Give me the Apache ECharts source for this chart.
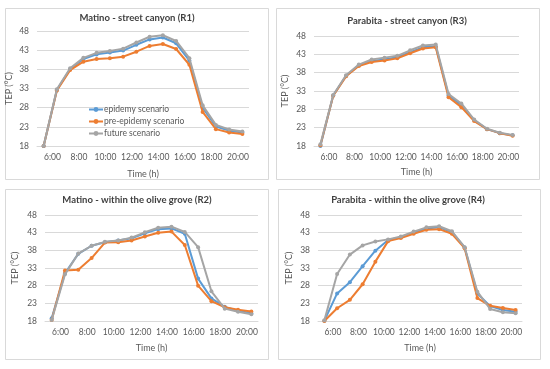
<!DOCTYPE html>
<html>
<head>
<meta charset="utf-8">
<script src="https://cdn.jsdelivr.net/npm/echarts@6/dist/echarts.min.js"></script>
<style>
html,body{margin:0;padding:0;background:#fff;}
#chart{width:550px;height:369px;}
</style>
</head>
<body>
<div id="chart"></div>
<script>
// ---- data ----
const times = ['5:20','6:20','7:20','8:20','9:20','10:20','11:20','12:20','13:20','14:20','15:20','16:20','17:20','18:20','19:20','20:20'];
const tickLabels = ['6:00','8:00','10:00','12:00','14:00','16:00','18:00','20:00'];
const yTicks = [18, 23, 28, 33, 38, 43, 48];
const seriesNames = ['epidemy scenario', 'pre-epidemy scenario', 'future scenario'];
const panelTitles = ['Matino - street canyon (R1)', 'Parabita - street canyon (R3)', 'Matino - within the olive grove (R2)', 'Parabita - within the olive grove (R4)'];

// R1 Matino - street canyon
const r1Epidemy    = [18.0, 32.6, 38.1, 40.7, 41.9, 42.4, 42.9, 44.4, 45.8, 46.3, 44.8, 40.3, 28.0, 23.1, 22.0, 21.5];
const r1PreEpidemy = [18.0, 32.5, 37.8, 40.0, 40.7, 40.9, 41.3, 42.6, 44.1, 44.6, 43.3, 39.2, 26.9, 22.4, 21.5, 21.1];
const r1Future     = [18.0, 32.8, 38.3, 41.0, 42.3, 42.8, 43.4, 45.0, 46.5, 46.9, 45.4, 40.9, 28.6, 23.5, 22.3, 21.8];
// R3 Parabita - street canyon
const r3Epidemy    = [18.0, 31.8, 37.1, 40.0, 41.2, 41.6, 42.2, 43.6, 44.9, 45.2, 31.8, 29.2, 25.0, 22.6, 21.5, 20.9];
const r3PreEpidemy = [18.2, 31.7, 37.0, 39.8, 40.9, 41.3, 41.9, 43.3, 44.6, 44.9, 31.3, 28.6, 24.8, 22.6, 21.5, 20.8];
const r3Future     = [18.5, 31.9, 37.3, 40.2, 41.6, 42.1, 42.6, 44.1, 45.4, 45.7, 32.2, 29.6, 25.2, 22.7, 21.6, 21.0];
// R2 Matino - within the olive grove
const r2Epidemy    = [18.8, 31.5, 37.0, 39.3, 40.3, 40.8, 41.4, 42.8, 44.0, 44.2, 42.7, 30.0, 24.4, 22.0, 20.9, 20.2];
const r2PreEpidemy = [18.3, 32.3, 32.5, 35.8, 40.2, 40.3, 40.8, 41.9, 43.0, 43.3, 39.5, 28.0, 23.6, 21.9, 21.2, 20.7];
const r2Future     = [18.3, 31.2, 37.1, 39.3, 40.4, 40.8, 41.6, 43.1, 44.4, 44.7, 43.2, 38.9, 26.4, 21.5, 20.6, 19.9];
// R4 Parabita - within the olive grove
const r4Epidemy    = [18.1, 25.8, 29.0, 33.5, 37.9, 40.9, 41.7, 43.0, 44.2, 44.5, 43.2, 38.8, 25.8, 22.2, 21.1, 20.6];
const r4PreEpidemy = [18.0, 21.6, 24.0, 28.4, 34.8, 40.6, 41.5, 42.7, 43.8, 44.0, 42.7, 38.6, 24.5, 22.3, 21.7, 21.1];
const r4Future     = [18.2, 31.3, 36.8, 39.4, 40.5, 41.1, 41.9, 43.3, 44.5, 44.8, 43.4, 38.9, 26.3, 21.4, 20.5, 20.2];

const panelData = [
  [r1Epidemy, r1PreEpidemy, r1Future],
  [r3Epidemy, r3PreEpidemy, r3Future],
  [r2Epidemy, r2PreEpidemy, r2Future],
  [r4Epidemy, r4PreEpidemy, r4Future]
];

// ---- layout & style ----
const toMin = s => { const p = s.split(':'); return (+p[0]) * 60 + (+p[1]); };
const xMinutes = times.map(toMin);
const tickMinutes = tickLabels.map(toMin);
const labelByMin = {};
tickLabels.forEach((t, i) => { labelByMin[tickMinutes[i]] = t; });

const colors = ['#5B9BD5', '#ED7D31', '#A5A5A5'];
const FONT = 'Lato, Liberation Sans, Arial, sans-serif';
const textColor = '#595959';
const gridColor = '#D9D9D9';

const layout = [
  { grid: { left: 37, top: 31, width: 212, height: 115 }, title: [137, 13], box: [5, 8, 263, 171], yName: 23, xName: 23.5 },
  { grid: { left: 314, top: 36, width: 205, height: 110 }, title: [407, 16], box: [276, 8, 263, 171], yName: 24.5, xName: 22 },
  { grid: { left: 45, top: 215, width: 213, height: 106 }, title: [137, 195], box: [5, 189, 263, 170], yName: 25, xName: 22.5 },
  { grid: { left: 318, top: 215, width: 204, height: 106 }, title: [408, 195], box: [278, 189, 262, 170], yName: 24.5, xName: 22.5 }
];

const xMin = xMinutes[0] - 30, xMax = xMinutes[xMinutes.length - 1] + 30;

const grids = [], xAxes = [], yAxes = [], series = [], titles = [], graphics = [];
layout.forEach((L, i) => {
  graphics.push({
    type: 'rect', z: -10, silent: true,
    shape: { x: L.box[0] + 0.5, y: L.box[1] + 0.5, width: L.box[2], height: L.box[3] },
    style: { fill: '#fff', stroke: gridColor, lineWidth: 1 }
  });
  titles.push({
    text: panelTitles[i], left: L.title[0], top: L.title[1], textAlign: 'center', padding: 0,
    textStyle: { fontFamily: FONT, fontSize: 9.5, fontWeight: 'bold', color: '#404040' }
  });
  grids.push(L.grid);
  xAxes.push({
    type: 'value', gridIndex: i, min: xMin, max: xMax,
    name: 'Time (h)', nameLocation: 'middle', nameGap: L.xName, nameMoveOverlap: false,
    nameTextStyle: { fontFamily: FONT, fontSize: 9, color: textColor },
    axisLine: { show: true, lineStyle: { color: gridColor } },
    axisTick: { show: false },
    splitLine: { show: false },
    axisLabel: {
      customValues: tickMinutes, margin: 7,
      formatter: v => labelByMin[v] || '',
      fontFamily: FONT, fontSize: 8.5, color: textColor, hideOverlap: false
    }
  });
  yAxes.push({
    type: 'value', gridIndex: i, min: yTicks[0], max: yTicks[yTicks.length - 1], interval: yTicks[1] - yTicks[0],
    name: 'TEP (°C)', nameLocation: 'middle', nameGap: L.yName, nameRotate: 90, nameMoveOverlap: false,
    nameTextStyle: { fontFamily: FONT, fontSize: 9, color: textColor },
    axisLine: { show: false }, axisTick: { show: false },
    splitLine: { lineStyle: { color: gridColor, width: 1 } },
    axisLabel: { margin: 8, fontFamily: FONT, fontSize: 8.5, color: textColor }
  });
  panelData[i].forEach((arr, k) => {
    series.push({
      name: seriesNames[k], type: 'line', xAxisIndex: i, yAxisIndex: i,
      data: arr.map((v, j) => [xMinutes[j], v]),
      symbol: 'circle', symbolSize: 4, showSymbol: true,
      lineStyle: { width: 2, color: colors[k] },
      itemStyle: { color: colors[k] },
      animation: false, z: 2 + k
    });
  });
});

const chart = echarts.init(document.getElementById('chart'), null, { renderer: 'canvas' });
chart.setOption({
  backgroundColor: '#fff',
  animation: false,
  title: titles,
  grid: grids,
  xAxis: xAxes,
  yAxis: yAxes,
  legend: {
    data: seriesNames, orient: 'vertical', left: 88, top: 105, padding: 0,
    itemWidth: 14, itemHeight: 6, itemGap: 3,
    textStyle: { fontFamily: FONT, fontSize: 8.5, color: textColor, padding: [0, 0, 0, -4] }
  },
  graphic: graphics,
  series: series
});
</script>
</body>
</html>
